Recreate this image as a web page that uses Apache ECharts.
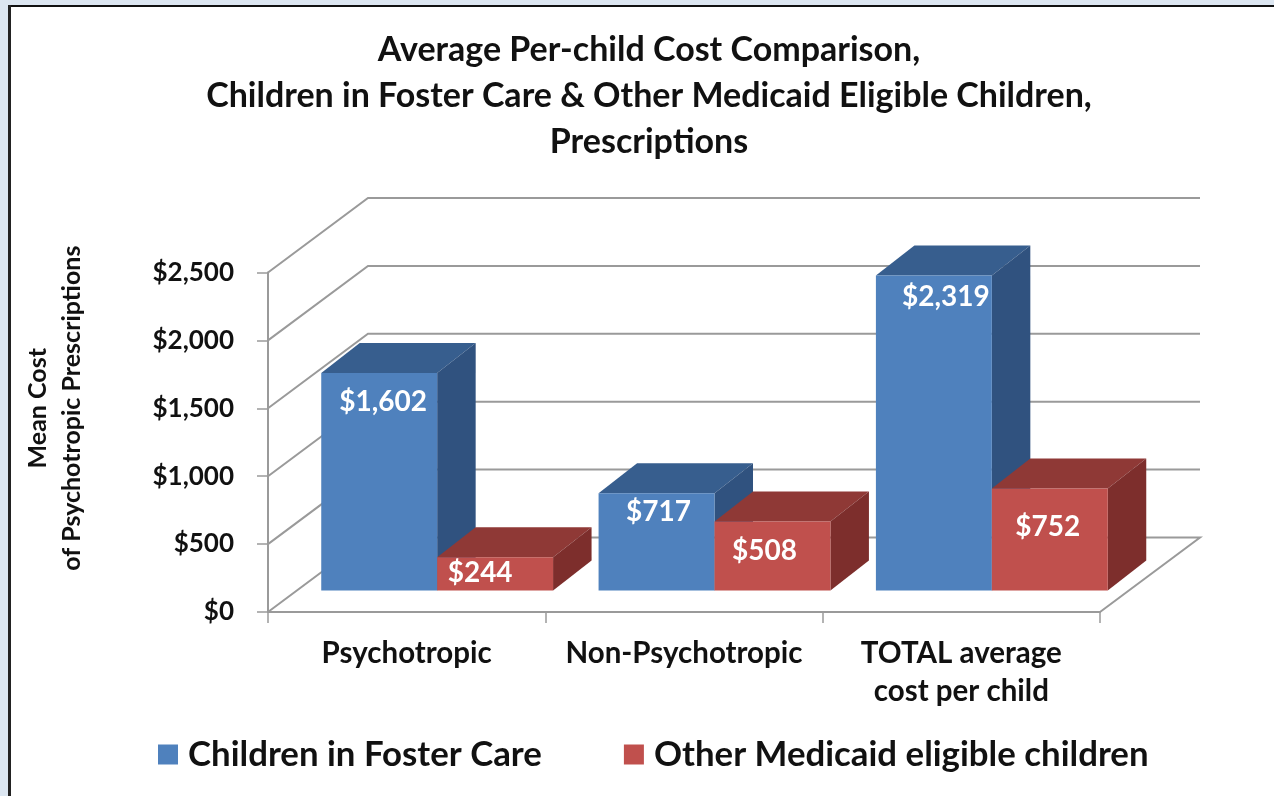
<!DOCTYPE html>
<html>
<head>
<meta charset="utf-8">
<style>html,body{margin:0;padding:0;background:#fff}#c{width:1274px;height:796px}</style>
<script src="https://cdn.jsdelivr.net/npm/echarts@6/dist/echarts.min.js"></script>
</head>
<body>
<div id="c"></div>
<script>
const categories = ['Psychotropic', 'Non-Psychotropic', 'TOTAL average\ncost per child'];
const fosterCare = [1602, 717, 2319];
const otherMedicaid = [244, 508, 752];
const valueTicks = [0, 500, 1000, 1500, 2000, 2500];
const seriesNames = ['Children in Foster Care', 'Other Medicaid eligible children'];
const titleText = 'Average Per-child Cost Comparison,\nChildren in Foster Care & Other Medicaid Eligible Children,\nPrescriptions';
const yAxisName = 'Mean Cost\nof Psychotropic Prescriptions';

const FONT = 'Lato, Carlito, "Open Sans", sans-serif';
const WALL = { dx: 100, dy: -74.5 };
const BAR = { shiftX: 30.5, shiftY: -21.5, widthRatio: 0.418, dx: 38.5, dy: -30 };
const GRID_COLOR = '#9a9a9a';
const blueFaces = { front: '#4f81bd', top: '#375e8e', side: '#30527f' };
const redFaces = { front: '#c0504d', top: '#8f3936', side: '#7d2e2c' };
const fosterNudge = [[4, 29], [2, 19], [12, 21]];
const otherNudge = [[-15, 16], [-8, 29], [-2, 39]];

function poly(points, fill) {
  return { type: 'polygon', shape: { points }, style: { fill } };
}

function renderBar(faces, side, nudges) {
  return function (params, api) {
    const i = api.value(0);
    const v = api.value(1);
    const base = api.coord([i, 0]);
    const top = api.coord([i, v]);
    const w = api.size([1, 0])[0] * BAR.widthRatio;
    const xc = base[0] + BAR.shiftX;
    const x0 = side === 0 ? xc - w : xc;
    const x1 = x0 + w;
    const y0 = base[1] + BAR.shiftY;
    const y1 = top[1] + BAR.shiftY;
    const n = nudges[i];
    return {
      type: 'group',
      children: [
        poly([[x0, y1], [x1, y1], [x1 + BAR.dx, y1 + BAR.dy], [x0 + BAR.dx, y1 + BAR.dy]], faces.top),
        poly([[x1, y0], [x1, y1], [x1 + BAR.dx, y1 + BAR.dy], [x1 + BAR.dx, y0 + BAR.dy]], faces.side),
        poly([[x0, y0], [x1, y0], [x1, y1], [x0, y1]], faces.front),
        {
          type: 'text',
          style: {
            text: '$' + v.toLocaleString('en-US'),
            x: (x0 + x1) / 2 + n[0],
            y: y1 + n[1],
            fill: '#fff',
            font: 'bold 28px ' + FONT,
            align: 'center',
            verticalAlign: 'middle'
          }
        }
      ]
    };
  };
}

function renderWall(params, api) {
  const v = api.value(0);
  const cs = params.coordSys;
  const y = api.coord([0, v])[1];
  const xL = cs.x;
  const xR = cs.x + cs.width;
  const pts = [[xL, y], [xL + WALL.dx, y + WALL.dy], [xR + WALL.dx, y + WALL.dy]];
  if (v === 0) pts.push([xR, y]);
  return {
    type: 'polyline',
    shape: { points: pts },
    style: { stroke: GRID_COLOR, lineWidth: 2, fill: null }
  };
}

const chart = echarts.init(document.getElementById('c'), null, { renderer: 'canvas' });
chart.setOption({
  animation: false,
  backgroundColor: '#fff',
  graphic: [
    { type: 'rect', shape: { x: 0, y: 0, width: 1274, height: 5 }, style: { fill: '#dce6f1' }, silent: true },
    { type: 'rect', shape: { x: 0, y: 0, width: 8, height: 796 }, style: { fill: '#dce6f1' }, silent: true },
    { type: 'rect', shape: { x: 8, y: 5, width: 1266, height: 2 }, style: { fill: '#111' }, silent: true },
    { type: 'rect', shape: { x: 8, y: 5, width: 3, height: 791 }, style: { fill: '#222' }, silent: true }
  ],
  title: {
    text: titleText,
    left: 644,
    top: 22,
    textAlign: 'center',
    textStyle: { fontFamily: FONT, fontWeight: 'bold', fontSize: 34, lineHeight: 46, color: '#111' }
  },
  legend: {
    left: 153,
    top: 732,
    itemWidth: 20,
    itemHeight: 20,
    itemGap: 82,
    icon: 'rect',
    data: seriesNames,
    selectedMode: false,
    textStyle: { fontFamily: FONT, fontWeight: 'bold', fontSize: 34.8, color: '#111', padding: [0, 0, 0, 5] }
  },
  grid: { left: 268, top: 272.5, width: 832, height: 339.5, containLabel: false },
  xAxis: {
    type: 'category',
    data: categories,
    boundaryGap: true,
    axisLine: { lineStyle: { color: GRID_COLOR, width: 2 } },
    axisTick: { show: true, length: 11, alignWithLabel: false, lineStyle: { color: GRID_COLOR, width: 1.5 } },
    axisLabel: {
      interval: 0, margin: 22, color: '#111',
      fontFamily: FONT, fontWeight: 'bold', fontSize: 29.5, lineHeight: 38
    }
  },
  yAxis: {
    type: 'value',
    min: 0,
    max: 2500,
    interval: 500,
    name: yAxisName,
    nameLocation: 'middle',
    nameRotate: 90,
    nameGap: 179,
    nameTextStyle: { fontFamily: FONT, fontWeight: 'bold', fontSize: 25, lineHeight: 34, color: '#111', padding: [0, 0, 0, 68] },
    splitLine: { show: false },
    axisLine: { show: true, lineStyle: { color: GRID_COLOR, width: 2 } },
    axisTick: { show: true, length: 11, lineStyle: { color: GRID_COLOR, width: 1.5 } },
    axisLabel: {
      margin: 34, color: '#111',
      fontFamily: FONT, fontWeight: 'bold', fontSize: 26,
      formatter: v => '$' + v.toLocaleString('en-US')
    }
  },
  series: [
    {
      type: 'custom', name: 'walls', z: 1, silent: true,
      renderItem: renderWall, encode: { y: 0 },
      data: valueTicks.map(v => [v])
    },
    {
      type: 'custom', name: seriesNames[0], z: 2,
      itemStyle: { color: blueFaces.front },
      renderItem: renderBar(blueFaces, 0, fosterNudge),
      encode: { x: 0, y: 1 },
      data: fosterCare.map((v, i) => [i, v])
    },
    {
      type: 'custom', name: seriesNames[1], z: 3,
      itemStyle: { color: redFaces.front },
      renderItem: renderBar(redFaces, 1, otherNudge),
      encode: { x: 0, y: 1 },
      data: otherMedicaid.map((v, i) => [i, v])
    }
  ]
});
</script>
</body>
</html>
